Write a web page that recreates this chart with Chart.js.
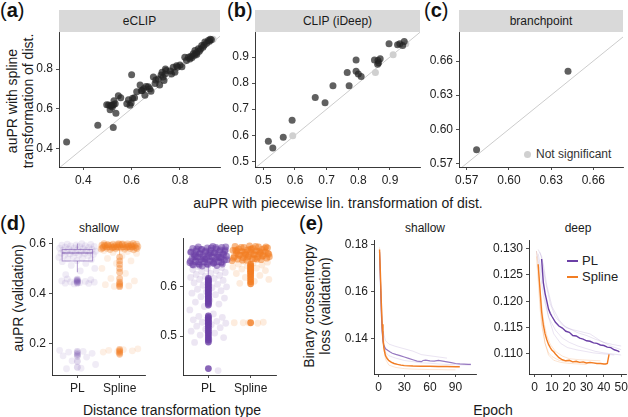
<!DOCTYPE html>
<html>
<head>
<meta charset="utf-8">
<script src="https://cdn.jsdelivr.net/npm/chart.js@4.4.1/dist/chart.umd.min.js"></script>
<style>
  body { margin: 0; width: 628px; height: 417px; position: relative; background: #fff; overflow: hidden;
         font-family: 'Liberation Sans', Arial, sans-serif; color: #1a1a1a; }
  canvas { position: absolute; }
  .t { position: absolute; white-space: nowrap; transform: translate(-50%, -50%); }
  .rot { transform: translate(-50%, -50%) rotate(-90deg); text-align: center; line-height: 16px; }
  .strip { position: absolute; top: 10px; height: 22px; background: #d9d9d9; font-size: 12px;
           text-align: center; line-height: 22px; color: #1a1a1a; }
  .lab { position: absolute; font-size: 20px; line-height: 20px; color: #111; }
  .key { position: absolute; font-size: 13px; color: #222; }
</style>
</head>
<body>
<div class="lab" style="left:0px;top:0px">(<b>a</b>)</div>
<div class="lab" style="left:227px;top:0px">(<b>b</b>)</div>
<div class="lab" style="left:424px;top:0px">(<b>c</b>)</div>
<div class="lab" style="left:0px;top:213px">(<b>d</b>)</div>
<div class="lab" style="left:299px;top:213px">(<b>e</b>)</div>

<div class="strip" style="left:59px;width:161px">eCLIP</div>
<div class="strip" style="left:255px;width:165px">CLIP (iDeep)</div>
<div class="strip" style="left:459px;width:164px">branchpoint</div>

<div class="t rot" style="left:20px;top:101px;font-size:14px">auPR with spline<br>transformation of dist.</div>
<div class="t" style="left:338px;top:203px;font-size:14px">auPR with piecewise lin. transformation of dist.</div>

<div class="t" style="left:99px;top:228px;font-size:12px">shallow</div>
<div class="t" style="left:230px;top:228px;font-size:12px">deep</div>
<div class="t rot" style="left:18px;top:298px;font-size:14px">auPR (validation)</div>
<div class="t" style="left:172px;top:410px;font-size:14px">Distance transformation type</div>

<div class="t" style="left:425px;top:228px;font-size:12px">shallow</div>
<div class="t" style="left:578px;top:228px;font-size:12px">deep</div>
<div class="t rot" style="left:317px;top:306px;font-size:14px">Binary crossentropy<br>loss (validation)</div>
<div class="t" style="left:493px;top:410px;font-size:14px">Epoch</div>

<div style="position:absolute;left:524px;top:151px;width:7px;height:7px;border-radius:50%;background:#d0d0d0"></div>
<div class="key" style="left:536px;top:147px;font-size:12px;color:#333">Not significant</div>

<div style="position:absolute;left:567px;top:260px;width:11px;height:1.5px;background:#6b40a6"></div>
<div class="key" style="left:582px;top:253px">PL</div>
<div style="position:absolute;left:567px;top:276px;width:11px;height:1.5px;background:#f27d23"></div>
<div class="key" style="left:582px;top:269px">Spline</div>

<script>
// ---------- (a) eCLIP: auPR piecewise (x) vs spline (y)
const eclipX = [0.331, 0.460, 0.524, 0.600, 0.497, 0.505, 0.513, 0.518, 0.525, 0.532, 0.511, 0.535, 0.545, 0.527,
  0.555, 0.520, 0.580, 0.593, 0.587, 0.604, 0.612, 0.598, 0.621, 0.635, 0.644, 0.655, 0.640, 0.650, 0.669, 0.680,
  0.690, 0.697, 0.710, 0.726, 0.734, 0.743, 0.716, 0.700, 0.722, 0.730, 0.738, 0.740, 0.772, 0.779, 0.786, 0.765,
  0.790, 0.800, 0.820, 0.827, 0.835, 0.841, 0.845, 0.850, 0.855, 0.860, 0.862, 0.868, 0.870, 0.876, 0.880, 0.885,
  0.890, 0.895, 0.900, 0.903, 0.910, 0.917, 0.922, 0.930, 0.925, 0.660, 0.675, 0.760, 0.808];
const eclipY = [0.431, 0.516, 0.505, 0.771, 0.620, 0.618, 0.614, 0.617, 0.620, 0.624, 0.594, 0.577, 0.665, 0.640,
  0.655, 0.608, 0.624, 0.617, 0.645, 0.652, 0.655, 0.628, 0.685, 0.719, 0.692, 0.667, 0.690, 0.700, 0.710, 0.688,
  0.760, 0.727, 0.750, 0.784, 0.742, 0.792, 0.719, 0.745, 0.770, 0.760, 0.775, 0.800, 0.809, 0.784, 0.817, 0.775,
  0.810, 0.820, 0.860, 0.843, 0.860, 0.851, 0.865, 0.858, 0.877, 0.870, 0.894, 0.882, 0.875, 0.902, 0.890, 0.900,
  0.919, 0.910, 0.920, 0.936, 0.930, 0.944, 0.940, 0.948, 0.950, 0.712, 0.700, 0.790, 0.812];
const eclipNsX = [0.937, 0.772, 0.866];
const eclipNsY = [0.951, 0.786, 0.869];

// ---------- (b) CLIP (iDeep)
const ideepX = [0.516, 0.530, 0.563, 0.591, 0.664, 0.695, 0.720, 0.771, 0.765, 0.793, 0.793, 0.800, 0.809, 0.851,
  0.862, 0.869, 0.864, 0.861, 0.897, 0.924, 0.931, 0.940, 0.945];
const ideepY = [0.577, 0.551, 0.592, 0.657, 0.745, 0.725, 0.790, 0.790, 0.841, 0.889, 0.845, 0.835, 0.825, 0.889,
  0.887, 0.893, 0.878, 0.872, 0.951, 0.947, 0.951, 0.944, 0.959];
const ideepNsX = [0.593, 0.854, 0.910, 0.950];
const ideepNsY = [0.598, 0.841, 0.909, 0.951];

// ---------- (c) branchpoint
const branchX = [0.577, 0.642];
const branchY = [0.582, 0.651];

// ---------- (d) auPR (validation) per distance transformation type
const dCats = ['PL', 'Spline'];
const dShallowPLBand = [0.599, 0.597, 0.596, 0.594, 0.593, 0.591, 0.590, 0.588, 0.587, 0.585, 0.584, 0.582, 0.581,
  0.579, 0.578, 0.576, 0.575, 0.573, 0.572, 0.570, 0.569, 0.567, 0.566, 0.564, 0.563, 0.561, 0.560, 0.558, 0.556,
  0.554, 0.552, 0.550, 0.547, 0.544, 0.541, 0.538, 0.535, 0.531, 0.527, 0.520, 0.512, 0.500, 0.490, 0.475];
const dShallowPLLow = [0.458, 0.455, 0.452, 0.450, 0.448, 0.446, 0.445, 0.443, 0.441, 0.440, 0.438, 0.172, 0.168,
  0.165, 0.160, 0.155, 0.150, 0.145, 0.130, 0.115, 0.100, 0.098];
const dShallowPLOut = [0.457, 0.453, 0.450, 0.447, 0.444, 0.441, 0.168, 0.162, 0.155, 0.148, 0.128, 0.104];
const dShallowSpBand = [0.600, 0.599, 0.599, 0.598, 0.597, 0.597, 0.596, 0.595, 0.595, 0.594, 0.593, 0.593, 0.592,
  0.591, 0.591, 0.590, 0.589, 0.589, 0.588, 0.587, 0.587, 0.586, 0.585, 0.585, 0.584, 0.583, 0.583, 0.582, 0.581,
  0.580, 0.579, 0.578, 0.577, 0.576, 0.575, 0.596, 0.592, 0.588, 0.584, 0.580, 0.598, 0.594, 0.590, 0.586, 0.582];
const dShallowSpLow = [0.572, 0.568, 0.564, 0.560, 0.550, 0.540, 0.530, 0.520, 0.500, 0.480, 0.460, 0.450, 0.440,
  0.435, 0.430, 0.428, 0.178, 0.175, 0.172, 0.170, 0.168, 0.165];
const dShallowSpOut = [0.545, 0.530, 0.516, 0.500, 0.485, 0.460, 0.445, 0.438, 0.432, 0.427, 0.176, 0.171, 0.166,
  0.161, 0.156];
const dDeepPLBand = [0.682, 0.681, 0.680, 0.679, 0.678, 0.677, 0.676, 0.675, 0.674, 0.673, 0.672, 0.671, 0.670,
  0.669, 0.668, 0.667, 0.666, 0.665, 0.664, 0.663, 0.662, 0.661, 0.660, 0.659, 0.658, 0.657, 0.656, 0.655, 0.654,
  0.653, 0.652, 0.651, 0.650, 0.649, 0.648, 0.647, 0.646, 0.645, 0.644, 0.643, 0.642, 0.681, 0.679, 0.677, 0.675,
  0.673, 0.671, 0.669, 0.667, 0.665, 0.663, 0.661, 0.659, 0.657, 0.655, 0.653, 0.651, 0.649, 0.647, 0.645, 0.680,
  0.676, 0.672, 0.668, 0.664, 0.660, 0.656, 0.652, 0.648, 0.644];
const dDeepPLLow = [0.641, 0.639, 0.637, 0.635, 0.633, 0.631, 0.629, 0.627, 0.625, 0.623, 0.621, 0.619, 0.617,
  0.615, 0.613, 0.611, 0.608, 0.605, 0.603, 0.600, 0.598, 0.595, 0.592, 0.590, 0.587, 0.584, 0.580, 0.577, 0.573,
  0.569, 0.565, 0.560, 0.553, 0.545, 0.540, 0.538, 0.535, 0.533, 0.530, 0.528, 0.526, 0.523, 0.520, 0.517, 0.514,
  0.510, 0.506, 0.502, 0.497, 0.492, 0.487, 0.430];
const dDeepPLOut = [0.617, 0.614, 0.611, 0.608, 0.605, 0.602, 0.599, 0.596, 0.593, 0.590, 0.587, 0.584, 0.581,
  0.578, 0.575, 0.572, 0.569, 0.566, 0.563, 0.541, 0.538, 0.535, 0.532, 0.529, 0.526, 0.523, 0.520, 0.516, 0.512,
  0.508, 0.504, 0.500, 0.496, 0.492, 0.488, 0.434];
const dDeepSpBand = [0.683, 0.682, 0.681, 0.680, 0.679, 0.678, 0.677, 0.676, 0.675, 0.674, 0.673, 0.672, 0.671,
  0.670, 0.669, 0.668, 0.667, 0.666, 0.665, 0.664, 0.663, 0.662, 0.661, 0.660, 0.659, 0.658, 0.657, 0.656, 0.655,
  0.654, 0.653, 0.682, 0.680, 0.678, 0.676, 0.674, 0.672, 0.670, 0.668, 0.666, 0.664, 0.662, 0.660, 0.658, 0.656,
  0.654, 0.681, 0.677, 0.673, 0.669, 0.665, 0.661, 0.657];
const dDeepSpLow = [0.652, 0.650, 0.648, 0.646, 0.644, 0.642, 0.640, 0.638, 0.636, 0.633, 0.630, 0.627, 0.623,
  0.619, 0.615, 0.611, 0.607, 0.528, 0.527, 0.527, 0.526, 0.527];
const dDeepSpOut = [0.646, 0.643, 0.640, 0.637, 0.634, 0.631, 0.628, 0.624, 0.620, 0.615, 0.610, 0.606, 0.527];
// box stats: [lower whisker, q1, median, q3, upper whisker]
const dShallowBoxes = [[0.485, 0.530, 0.562, 0.576, 0.600], [0.555, 0.577, 0.586, 0.593, 0.600]];
const dDeepBoxes = [[0.620, 0.645, 0.656, 0.665, 0.682], [0.648, 0.662, 0.669, 0.675, 0.683]];

// ---------- (e) validation loss per epoch
const eShPLEpoch = [1, 2, 3, 4, 5, 6, 8, 10, 13, 16, 20, 25, 30, 35, 40, 45, 50, 52, 55, 60, 65, 70, 75, 80, 85, 90,
  95, 100, 105, 108];
const eShPLMean = [0.177, 0.165, 0.152, 0.143, 0.139, 0.137, 0.1355, 0.135, 0.1342, 0.1336, 0.1331, 0.1326, 0.132,
  0.1314, 0.1308, 0.1302, 0.1300, 0.1305, 0.1306, 0.1303, 0.1302, 0.1305, 0.1302, 0.1299, 0.1296, 0.1292, 0.1290,
  0.1289, 0.1288, 0.1288];
const eShSpEpoch = [1, 2, 3, 4, 5, 6, 7, 8, 10, 12, 15, 18, 22, 26, 30, 40, 50, 60, 70, 80, 90, 95];
const eShSpMean = [0.178, 0.168, 0.156, 0.146, 0.140, 0.136, 0.134, 0.1325, 0.1312, 0.1304, 0.1297, 0.1292, 0.1288,
  0.1285, 0.1283, 0.1281, 0.1280, 0.1280, 0.1279, 0.1279, 0.1278, 0.1278];
const eShPLRunEpoch = [[1, 3, 5, 8, 12, 20, 30, 40, 50, 60, 70, 80],
  [1, 3, 5, 8, 12, 20, 30, 40, 50, 60, 70, 80, 90, 100, 108]];
const eShPLRuns = [[0.176, 0.155, 0.143, 0.139, 0.1375, 0.1365, 0.1355, 0.1345, 0.133, 0.1325, 0.132, 0.1315],
  [0.177, 0.150, 0.138, 0.134, 0.1325, 0.1315, 0.1305, 0.130, 0.1295, 0.1293, 0.129, 0.1288, 0.1287, 0.1286, 0.1285]];
const eShSpRunEpoch = [[1, 3, 5, 8, 12, 20, 30, 40, 50, 60, 70, 80, 90], [1, 3, 5, 8, 12, 20, 30, 40, 50, 60, 70, 85]];
const eShSpRuns = [[0.179, 0.152, 0.138, 0.131, 0.1285, 0.1275, 0.127, 0.1268, 0.1267, 0.1266, 0.1266, 0.1265, 0.1265],
  [0.177, 0.158, 0.142, 0.1335, 0.1305, 0.129, 0.1285, 0.1282, 0.128, 0.1279, 0.1278, 0.1278]];

const eDpPLEpoch = [4, 5, 6, 7, 8, 9, 10, 12, 14, 16, 18, 20, 22, 24, 26, 28, 30, 32, 34, 36, 38, 40, 42, 44, 46, 48, 49];
const eDpPLMean = [0.128, 0.1235, 0.1215, 0.120, 0.1185, 0.1177, 0.1171, 0.1160, 0.1153, 0.1149, 0.1143, 0.1141,
  0.1135, 0.1134, 0.1130, 0.1128, 0.1125, 0.1124, 0.1121, 0.1120, 0.1117, 0.1116, 0.1113, 0.1112, 0.1108, 0.1106, 0.1104];
const eDpSpEpoch = [2, 3, 4, 5, 6, 7, 8, 9, 10, 11, 12, 14, 16, 18, 20, 22, 24, 26, 28, 30, 32, 34, 36, 38, 40, 41, 42, 43];
const eDpSpMean = [0.127, 0.1225, 0.118, 0.1155, 0.1138, 0.1127, 0.1118, 0.1112, 0.1107, 0.1104, 0.1100, 0.1093,
  0.1089, 0.1087, 0.1088, 0.1085, 0.1086, 0.1084, 0.1085, 0.1083, 0.1084, 0.1083, 0.1082, 0.1082, 0.1081, 0.1081,
  0.1082, 0.1099];
const eDpPLRunEpoch = [[1, 3, 5, 8, 12, 16, 20, 25, 30, 35, 40, 45, 50], [2, 4, 6, 9, 12, 16, 20, 25, 30, 35, 40, 45, 50],
  [3, 5, 7, 10, 14, 18, 22, 27, 32, 38, 44, 50], [2, 4, 6, 8, 11, 15, 19, 24, 29, 34, 40, 46]];
const eDpPLRuns = [[0.1295, 0.126, 0.121, 0.117, 0.1145, 0.113, 0.1122, 0.1115, 0.111, 0.1105, 0.1102, 0.110, 0.1098],
  [0.1298, 0.1285, 0.124, 0.1195, 0.117, 0.1155, 0.1148, 0.114, 0.1135, 0.1128, 0.1122, 0.1118, 0.1115],
  [0.1293, 0.127, 0.123, 0.119, 0.1165, 0.115, 0.1146, 0.1142, 0.1138, 0.1125, 0.1115, 0.1108],
  [0.129, 0.1255, 0.1205, 0.117, 0.1138, 0.112, 0.1112, 0.1108, 0.1105, 0.1102, 0.110, 0.1098]];
const eDpSpRunEpoch = [[1, 2, 3, 4, 6, 8, 10, 14, 18, 24, 30, 36, 42], [1, 2, 3, 5, 7, 9, 12, 16, 20, 26, 32, 38],
  [2, 3, 4, 6, 8, 11, 15, 20, 25, 30]];
const eDpSpRuns = [[0.1285, 0.124, 0.119, 0.1155, 0.112, 0.1102, 0.1095, 0.1088, 0.1086, 0.1084, 0.1082, 0.1082, 0.1081],
  [0.1295, 0.1265, 0.1225, 0.1165, 0.1135, 0.1118, 0.1105, 0.1096, 0.1091, 0.1089, 0.1088, 0.1087],
  [0.127, 0.121, 0.1165, 0.112, 0.1098, 0.1088, 0.1084, 0.1082, 0.1081, 0.108]];

// ---------- colours
const PURPLE = '107,64,166';
const ORANGE = '242,125,35';
const DARK = 'rgba(35,35,35,0.72)';
const LIGHT = '#d0d0d0';

Chart.defaults.font.family = "'Liberation Sans', Arial, sans-serif";
Chart.defaults.color = '#222';

// Function to put a canvas so that its chart area lands on the given box
function place(box, pad) {
    const c = document.createElement('canvas');
    const w = box.w + pad.l + pad.r;
    const h = box.h + pad.t + pad.b;
    c.width = w;
    c.height = h;
    c.style.left = (box.x - pad.l) + 'px';
    c.style.top = (box.y - pad.t) + 'px';
    c.style.width = w + 'px';
    c.style.height = h + 'px';
    document.body.appendChild(c);
    return c;
}

// Function to build a ggplot-like axis
function axis(min, max, ticks, labels, isX, size) {
    return {
        type: 'linear', min: min, max: max,
        afterBuildTicks: s => { s.ticks = ticks.map(v => ({ value: v })); },
        afterFit: s => {
            if (isX) { s.height = size; s.paddingLeft = 0; s.paddingRight = 0; }
            else { s.width = size; s.paddingTop = 0; s.paddingBottom = 0; }
        },
        grid: { drawOnChartArea: false, drawTicks: true, tickLength: 3, color: '#222', lineWidth: 0.8 },
        border: { display: true, color: '#222', width: 0.9 },
        ticks: { callback: (v, i) => labels[i], autoSkip: false, maxRotation: 0, padding: 3, color: '#222',
                 font: { size: 12 } }
    };
}

function makeChart(box, pad, datasets, xScale, yScale, extra) {
    const canvas = place(box, pad);
    return new Chart(canvas, {
        type: 'scatter',
        data: { datasets: datasets },
        options: {
            responsive: false, animation: false, devicePixelRatio: 1,
            layout: { padding: { left: 0, top: pad.t, right: pad.r, bottom: 0 } },
            plugins: { legend: { display: false }, tooltip: { enabled: false } },
            scales: { x: xScale, y: yScale }
        },
        plugins: extra ? [extra] : []
    });
}

const pts = (xs, ys) => xs.map((x, i) => ({ x: x, y: ys[i] }));
const fmt = (arr, d) => arr.map(v => v.toFixed(d));

// scatter panels (a)-(c)
function scatterSets(xs, ys, nsx, nsy) {
    return [
        { data: pts(xs, ys), backgroundColor: DARK, pointRadius: 3.5, borderWidth: 0 },
        { data: pts(nsx, nsy), backgroundColor: LIGHT, pointRadius: 3.5, borderWidth: 0 },
        { data: [{ x: 0, y: 0 }, { x: 1.2, y: 1.2 }], showLine: true, borderColor: '#cccccc', borderWidth: 1,
          pointRadius: 0 }
    ];
}
const pad3 = { l: 32, r: 4, t: 4, b: 22 };
const aTicks = [0.4, 0.6, 0.8];
makeChart({ x: 59, y: 32, w: 161, h: 135 }, pad3, scatterSets(eclipX, eclipY, eclipNsX, eclipNsY),
    axis(0.2995, 0.9656, aTicks, fmt(aTicks, 1), true, 22),
    axis(0.305, 0.987, aTicks, fmt(aTicks, 1), false, 32));
const bTicks = [0.5, 0.6, 0.7, 0.8, 0.9];
makeChart({ x: 255, y: 32, w: 165, h: 135 }, pad3, scatterSets(ideepX, ideepY, ideepNsX, ideepNsY),
    axis(0.4738, 0.9948, bTicks, fmt(bTicks, 1), true, 22),
    axis(0.4782, 0.9959, bTicks, fmt(bTicks, 1), false, 32));
const cTicks = [0.57, 0.60, 0.63, 0.66];
makeChart({ x: 459, y: 32, w: 164, h: 135 }, { l: 38, r: 4, t: 4, b: 22 }, scatterSets(branchX, branchY, [], []),
    axis(0.5645, 0.6811, cTicks, fmt(cTicks, 2), true, 22),
    axis(0.5668, 0.6855, cTicks, fmt(cTicks, 2), false, 38));

// strip panels (d)
const jitter = (vals, cat, k) => vals.map((v, i) => ({ x: cat + ((((i + k) * 0.618034) % 1) - 0.5) * 0.9, y: v }));
const centre = (vals, cat) => vals.map(v => ({ x: cat, y: v }));
const dot = (data, rgb, a) => ({ data: data, backgroundColor: 'rgba(' + rgb + ',' + a + ')', pointRadius: 3.4,
    borderWidth: 0 });

function boxPlugin(stats) {
    const cols = ['rgba(' + PURPLE + ',0.5)', 'rgba(' + ORANGE + ',0.5)'];
    return {
        id: 'boxes',
        beforeDatasetsDraw(chart) {
            const { ctx, scales: { x, y } } = chart;
            stats.forEach((s, i) => {
                const cx = x.getPixelForValue(i + 1);
                const hw = x.getPixelForValue(i + 1 + 0.36) - cx;
                const [lo, q1, med, q3, hi] = s.map(v => y.getPixelForValue(v));
                ctx.save();
                ctx.strokeStyle = cols[i];
                ctx.lineWidth = 1;
                ctx.beginPath();
                ctx.moveTo(cx, lo); ctx.lineTo(cx, q1);
                ctx.moveTo(cx, q3); ctx.lineTo(cx, hi);
                ctx.stroke();
                ctx.fillStyle = '#fff';
                ctx.fillRect(cx - hw, q3, 2 * hw, q1 - q3);
                ctx.strokeRect(cx - hw, q3, 2 * hw, q1 - q3);
                ctx.lineWidth = 1.6;
                ctx.beginPath(); ctx.moveTo(cx - hw, med); ctx.lineTo(cx + hw, med); ctx.stroke();
                ctx.restore();
            });
        }
    };
}
const dShTicks = [0.2, 0.4, 0.6];
makeChart({ x: 52, y: 238, w: 93, h: 137 }, { l: 30, r: 6, t: 4, b: 24 }, [
    dot(centre(dShallowPLOut, 1), PURPLE, 0.2),
    dot(centre(dShallowSpOut, 2), ORANGE, 0.4),
    dot(jitter(dShallowSpBand, 2, 3), ORANGE, 0.35),
    dot(jitter(dShallowPLBand, 1, 1), PURPLE, 0.1),
    dot(jitter(dShallowSpLow, 2, 5), ORANGE, 0.12),
    dot(jitter(dShallowPLLow, 1, 2), PURPLE, 0.1)
], axis(0.4, 2.6, [1, 2], dCats, true, 24), axis(0.073, 0.622, dShTicks, fmt(dShTicks, 1), false, 30),
    boxPlugin(dShallowBoxes));
const dDpTicks = [0.5, 0.6];
makeChart({ x: 183, y: 238, w: 93, h: 137 }, { l: 30, r: 6, t: 4, b: 24 }, [
    dot(centre(dDeepPLOut, 1), PURPLE, 0.8),
    dot(centre(dDeepSpOut, 2), ORANGE, 0.8),
    dot(jitter(dDeepPLBand, 1, 1), PURPLE, 0.55),
    dot(jitter(dDeepSpBand, 2, 4), ORANGE, 0.55),
    dot(jitter(dDeepSpLow, 2, 7), ORANGE, 0.15),
    dot(jitter(dDeepPLLow, 1, 2), PURPLE, 0.13)
], axis(0.4, 2.6, [1, 2], dCats, true, 24), axis(0.421, 0.699, dDpTicks, fmt(dDpTicks, 1), false, 30),
    boxPlugin(dDeepBoxes));

// loss curves (e)
const line = (ep, vals, rgb, a, w) => ({ data: pts(ep, vals), showLine: true, pointRadius: 0, borderWidth: w,
    borderColor: 'rgba(' + rgb + ',' + a + ')', tension: 0 });
const eShSets = [line(eShSpEpoch, eShSpMean, ORANGE, 1, 1.4), line(eShPLEpoch, eShPLMean, PURPLE, 0.7, 1.2)];
eShPLRuns.forEach((r, i) => eShSets.push(line(eShPLRunEpoch[i], r, PURPLE, 0.14, 1)));
eShSpRuns.forEach((r, i) => eShSets.push(line(eShSpRunEpoch[i], r, ORANGE, 0.2, 1)));
const eShX = [0, 30, 60, 90];
const eShY = [0.14, 0.16, 0.18];
makeChart({ x: 374, y: 240, w: 102, h: 134 }, { l: 36, r: 6, t: 6, b: 24 }, eShSets,
    axis(-5.5, 114, eShX, fmt(eShX, 0), true, 24), axis(0.1247, 0.1821, eShY, fmt(eShY, 2), false, 36));

const eDpSets = [line(eDpPLEpoch, eDpPLMean, PURPLE, 1, 1.4), line(eDpSpEpoch, eDpSpMean, ORANGE, 1, 1.4)];
eDpPLRuns.forEach((r, i) => eDpSets.push(line(eDpPLRunEpoch[i], r, PURPLE, 0.14, 1)));
eDpSpRuns.forEach((r, i) => eDpSets.push(line(eDpSpRunEpoch[i], r, ORANGE, 0.2, 1)));
const eDpX = [0, 10, 20, 30, 40, 50];
const eDpY = [0.110, 0.115, 0.120, 0.125, 0.130];
makeChart({ x: 529, y: 240, w: 97, h: 134 }, { l: 42, r: 2, t: 6, b: 24 }, eDpSets,
    axis(-3.3, 52.8, eDpX, fmt(eDpX, 0), true, 24), axis(0.1062, 0.1316, eDpY, fmt(eDpY, 3), false, 42));
</script>
</body>
</html>
